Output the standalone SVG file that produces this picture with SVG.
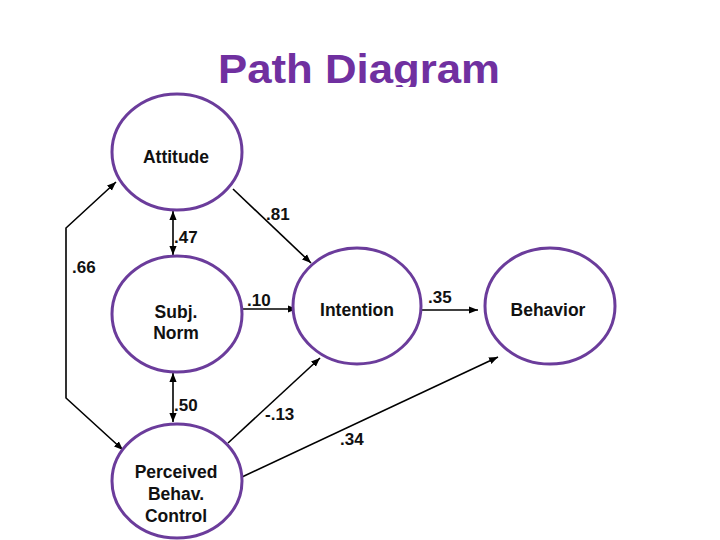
<svg xmlns="http://www.w3.org/2000/svg" width="720" height="540" viewBox="0 0 720 540">
<style>
.node{fill:#fff;stroke:#6B3C9B;stroke-width:3}
.nt{font-family:"Liberation Sans",Arial,sans-serif;font-weight:bold;font-size:17.5px;fill:#111;text-anchor:middle}
.lb{font-family:"Liberation Sans",Arial,sans-serif;font-weight:bold;font-size:17px;fill:#111}
.cn{fill:none;stroke:#000;stroke-width:1.6}
.title{font-family:"Liberation Sans",Arial,sans-serif;font-weight:bold;font-size:40px;fill:#7030A0;text-anchor:middle}
</style>
<defs>
<marker id="ah2" viewBox="0 0 10 10" refX="10" refY="5" markerWidth="9" markerHeight="9" orient="auto-start-reverse" markerUnits="userSpaceOnUse">
<path d="M0,1 L10,5 L0,9 z" fill="#000"/>
</marker>
<clipPath id="tc"><rect x="0" y="0" width="720" height="87"/></clipPath>
</defs>
<rect width="720" height="540" fill="#fff"/>
<text class="title" x="359" y="83" clip-path="url(#tc)" textLength="282" lengthAdjust="spacingAndGlyphs">Path Diagram</text>
<g id="connectors">
<line class="cn" x1="173" y1="211" x2="173" y2="255" marker-start="url(#ah2)" marker-end="url(#ah2)"/>
<line class="cn" x1="173" y1="373" x2="173" y2="422" marker-start="url(#ah2)" marker-end="url(#ah2)"/>
<polyline class="cn" points="116,182 66,228 66,398 123,450" marker-start="url(#ah2)" marker-end="url(#ah2)"/>
<line class="cn" x1="233" y1="189" x2="311" y2="263" marker-end="url(#ah2)"/>
<line class="cn" x1="242" y1="309" x2="297" y2="309" marker-end="url(#ah2)"/>
<line class="cn" x1="228" y1="443" x2="320" y2="358" marker-end="url(#ah2)"/>
<line class="cn" x1="422" y1="310" x2="478" y2="310" marker-end="url(#ah2)"/>
<line class="cn" x1="242" y1="477" x2="498" y2="357" marker-end="url(#ah2)"/>
<text class="lb" x="266" y="220">.81</text>
<text class="lb" x="174" y="243">.47</text>
<text class="lb" x="72" y="273">.66</text>
<text class="lb" x="247" y="306">.10</text>
<text class="lb" x="174" y="411">.50</text>
<text class="lb" x="265" y="420">-.13</text>
<text class="lb" x="428" y="303">.35</text>
<text class="lb" x="340" y="445">.34</text>
</g>
<g id="attitude">
<ellipse class="node" cx="177" cy="152" rx="65" ry="58"/>
<text class="nt" x="176" y="163">Attitude</text>
</g>
<g id="subjnorm">
<ellipse class="node" cx="177" cy="314" rx="65" ry="58"/>
<text class="nt" x="176" y="318">Subj.</text>
<text class="nt" x="176" y="339">Norm</text>
</g>
<g id="pbc">
<ellipse class="node" cx="177" cy="481" rx="65" ry="57"/>
<text class="nt" x="176" y="478">Perceived</text>
<text class="nt" x="176" y="500">Behav.</text>
<text class="nt" x="176" y="522">Control</text>
</g>
<g id="intention">
<ellipse class="node" cx="357" cy="306" rx="64" ry="58"/>
<text class="nt" x="357" y="316">Intention</text>
</g>
<g id="behavior">
<ellipse class="node" cx="550" cy="306" rx="65" ry="58"/>
<text class="nt" x="548" y="316">Behavior</text>
</g>
</svg>
